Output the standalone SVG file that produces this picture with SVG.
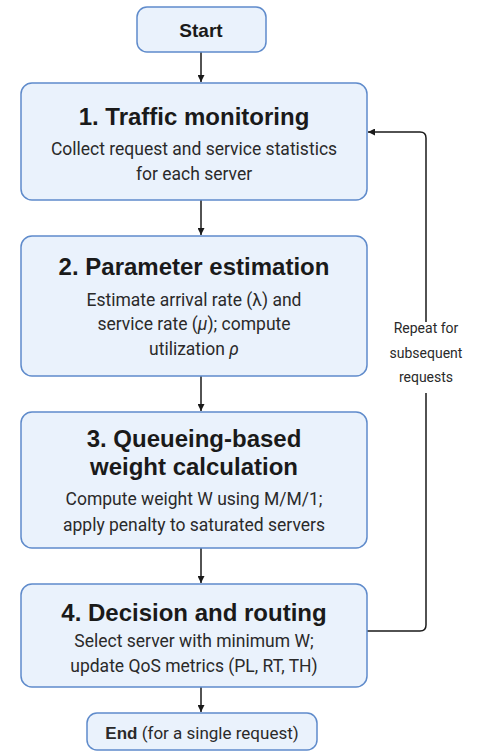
<svg xmlns="http://www.w3.org/2000/svg" width="479" height="752" viewBox="0 0 479 752">
<defs>
<style>
.box{fill:#EAF2FC;stroke:#5F8BCB;stroke-width:1.5}
.t{font-family:"Liberation Sans",Arial,sans-serif;font-weight:bold;font-size:24px;fill:#1a1a1a;text-anchor:middle}
.s{font-family:Roboto,"Liberation Sans",sans-serif;font-size:17.5px;fill:#2a2a2a;text-anchor:middle}
.l{font-family:Roboto,"Liberation Sans",sans-serif;font-size:14px;fill:#2a2a2a;text-anchor:middle}
.c{fill:none;stroke:#1a1a1a;stroke-width:1.5}
</style>
<marker id="ah" viewBox="0 0 10 10" refX="10" refY="5" markerWidth="7" markerHeight="7" markerUnits="userSpaceOnUse" orient="auto"><path d="M0,0 L10,5 L0,10 z" fill="#1a1a1a"/></marker>
</defs>
<rect width="479" height="752" fill="#ffffff"/>
<g id="connectors">
<line class="c" x1="201" y1="52" x2="201" y2="82" marker-end="url(#ah)"/>
<line class="c" x1="201" y1="200" x2="201" y2="235" marker-end="url(#ah)"/>
<line class="c" x1="201" y1="376" x2="201" y2="411" marker-end="url(#ah)"/>
<line class="c" x1="201" y1="548" x2="201" y2="583" marker-end="url(#ah)"/>
<line class="c" x1="201" y1="687" x2="201" y2="712" marker-end="url(#ah)"/>
<path class="c" d="M367,631 H420 Q426,631 426,625 V393"/>
<path class="c" d="M426,322 V138 Q426,132 420,132 H368" marker-end="url(#ah)"/>
<text class="l" x="426" y="333">Repeat for</text>
<text class="l" x="426" y="358">subsequent</text>
<text class="l" x="426" y="382">requests</text>
</g>
<g id="start">
<rect class="box" x="137" y="7" width="129" height="45" rx="10"/>
<text class="t" x="201" y="37" style="font-size:19px">Start</text>
</g>
<g id="step1">
<rect class="box" x="21" y="83" width="346" height="117" rx="11"/>
<text class="t" x="194" y="125">1. Traffic monitoring</text>
<text class="s" x="194" y="155">Collect request and service statistics</text>
<text class="s" x="194" y="180">for each server</text>
</g>
<g id="step2">
<rect class="box" x="21" y="236" width="346" height="140" rx="11"/>
<text class="t" x="194" y="275">2. Parameter estimation</text>
<text class="s" x="194" y="306">Estimate arrival rate (λ) and</text>
<text class="s" x="194" y="330">service rate (<tspan font-style="italic">μ</tspan>); compute</text>
<text class="s" x="194" y="355">utilization <tspan font-style="italic">ρ</tspan></text>
</g>
<g id="step3">
<rect class="box" x="21" y="412" width="346" height="136" rx="11"/>
<text class="t" x="194" y="447">3. Queueing-based</text>
<text class="t" x="194" y="475">weight calculation</text>
<text class="s" x="194" y="505">Compute weight W using M/M/1;</text>
<text class="s" x="194" y="531">apply penalty to saturated servers</text>
</g>
<g id="step4">
<rect class="box" x="21" y="584" width="346" height="103" rx="11"/>
<text class="t" x="194" y="621">4. Decision and routing</text>
<text class="s" x="194" y="647">Select server with minimum W;</text>
<text class="s" x="194" y="672">update QoS metrics (PL, RT, TH)</text>
</g>
<g id="end">
<rect class="box" x="87" y="713" width="230" height="37" rx="10"/>
<text class="s" x="202" y="739" style="font-size:17px"><tspan font-weight="bold" style="font-family:'Liberation Sans',Arial,sans-serif">End</tspan> (for a single request)</text>
</g>
</svg>
